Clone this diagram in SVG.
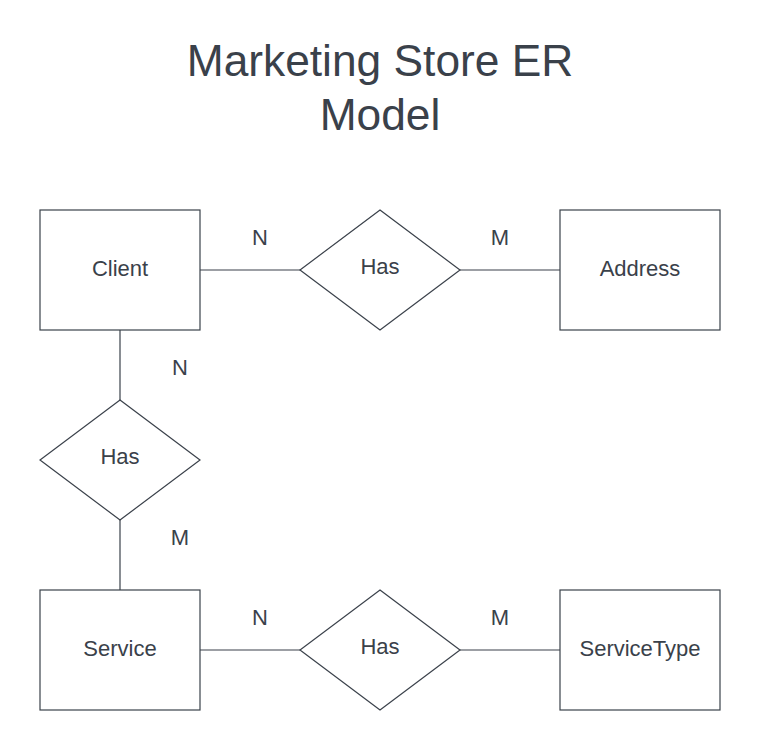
<svg xmlns="http://www.w3.org/2000/svg" width="760" height="750" viewBox="0 0 760 750">
<style>
.box{fill:#ffffff;stroke:#3a414a;stroke-width:1.2}
.ln{stroke:#3a414a;stroke-width:1.2;fill:none}
.t{font-family:"Liberation Sans",Arial,sans-serif;fill:#3a414a;text-anchor:middle}
.lbl{font-size:22px}
.title{font-size:44.3px}
</style>
<rect width="760" height="750" fill="#ffffff"/>
<g id="title">
<text class="t title" x="380" y="76">Marketing Store ER</text>
<text class="t title" x="380" y="130">Model</text>
</g>
<g id="connectors">
<line class="ln" x1="200" y1="270" x2="300" y2="270"/>
<line class="ln" x1="460" y1="270" x2="560" y2="270"/>
<line class="ln" x1="120" y1="330" x2="120" y2="400"/>
<line class="ln" x1="120" y1="520" x2="120" y2="590"/>
<line class="ln" x1="200" y1="650" x2="300" y2="650"/>
<line class="ln" x1="460" y1="650" x2="560" y2="650"/>
<text class="t lbl" x="260" y="245">N</text>
<text class="t lbl" x="500" y="245">M</text>
<text class="t lbl" x="180" y="375">N</text>
<text class="t lbl" x="180" y="545">M</text>
<text class="t lbl" x="260" y="625">N</text>
<text class="t lbl" x="500" y="625">M</text>
</g>
<g id="client">
<rect class="box" x="40" y="210" width="160" height="120"/>
<text class="t lbl" x="120" y="276">Client</text>
</g>
<g id="address">
<rect class="box" x="560" y="210" width="160" height="120"/>
<text class="t lbl" x="640" y="276">Address</text>
</g>
<g id="has1">
<polygon class="box" points="380,210 460,270 380,330 300,270"/>
<text class="t lbl" x="380" y="274">Has</text>
</g>
<g id="has2">
<polygon class="box" points="120,400 200,460 120,520 40,460"/>
<text class="t lbl" x="120" y="464">Has</text>
</g>
<g id="service">
<rect class="box" x="40" y="590" width="160" height="120"/>
<text class="t lbl" x="120" y="656">Service</text>
</g>
<g id="servicetype">
<rect class="box" x="560" y="590" width="160" height="120"/>
<text class="t lbl" x="640" y="656">ServiceType</text>
</g>
<g id="has3">
<polygon class="box" points="380,590 460,650 380,710 300,650"/>
<text class="t lbl" x="380" y="654">Has</text>
</g>
</svg>
